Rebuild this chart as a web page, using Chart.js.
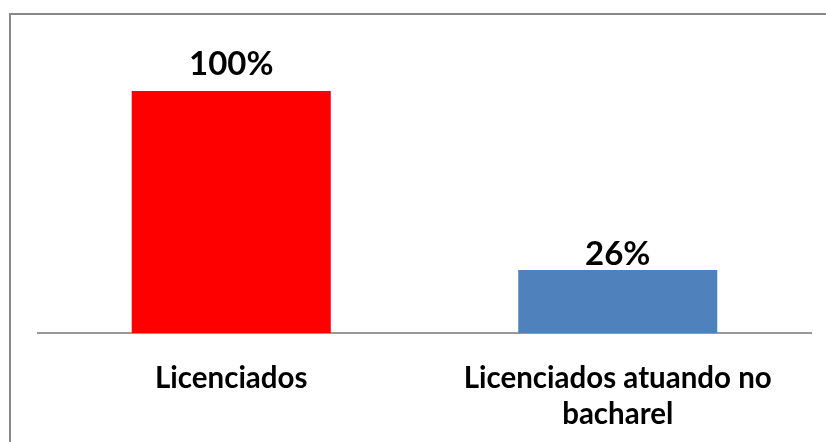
<!DOCTYPE html>
<html>
<head>
<meta charset="utf-8">
<script src="https://cdn.jsdelivr.net/npm/chart.js@4"></script>
<style>
  body { margin: 0; background: #fff; }
  #wrap { width: 826px; height: 442px; }
</style>
</head>
<body>
<div id="wrap"><canvas id="barChart" width="826" height="442"></canvas></div>
<script>
// chart data
const categories = ["Licenciados", ["Licenciados atuando no", "bacharel"]];
const values = [100, 26];
const valueLabels = ["100%", "26%"];
const barColors = ["#ff0000", "#4f81bd"];

// outer frame, clipped on the right and bottom like the original
const framePlugin = {
  id: "frame",
  beforeDraw(chart) {
    const ctx = chart.ctx;
    ctx.save();
    ctx.strokeStyle = "#888888";
    ctx.lineWidth = 2;
    ctx.strokeRect(10, 14, 900, 600);
    ctx.restore();
  },
};

// value labels on top of bars
const valueLabelPlugin = {
  id: "valueLabels",
  afterDatasetsDraw(chart, args, opts) {
    const ctx = chart.ctx;
    const meta = chart.getDatasetMeta(0);
    ctx.save();
    ctx.font = opts.font;
    ctx.fillStyle = "#000";
    ctx.textAlign = "center";
    ctx.textBaseline = "alphabetic";
    meta.data.forEach((bar, i) => {
      ctx.fillText(valueLabels[i], bar.x, bar.y - opts.offsets[i]);
    });
    ctx.restore();
  },
};

new Chart(document.getElementById("barChart").getContext("2d"), {
  type: "bar",
  data: {
    labels: categories,
    datasets: [
      {
        data: values,
        backgroundColor: barColors,
        borderWidth: 0,
        barPercentage: 1,
        categoryPercentage: 0.515,
      },
    ],
  },
  options: {
    responsive: false,
    animation: false,
    layout: { padding: { left: 38, right: 15, top: 91, bottom: 0 } },
    plugins: {
      legend: { display: false },
      tooltip: { enabled: false },
      valueLabels: { font: "bold 33px Lato", offsets: [16, 5] },
    },
    scales: {
      y: { display: false, min: 0, max: 100 },
      x: {
        grid: { display: false, drawTicks: false },
        border: { display: true, color: "#999999", width: 2 },
        afterFit: (scale) => { scale.height = 109; },
        ticks: {
          color: "#000",
          padding: 27,
          font: { family: "Lato", size: 29.5, weight: "bold", lineHeight: 1.22 },
          maxRotation: 0,
        },
      },
    },
  },
  plugins: [framePlugin, valueLabelPlugin],
});
</script>
</body>
</html>
